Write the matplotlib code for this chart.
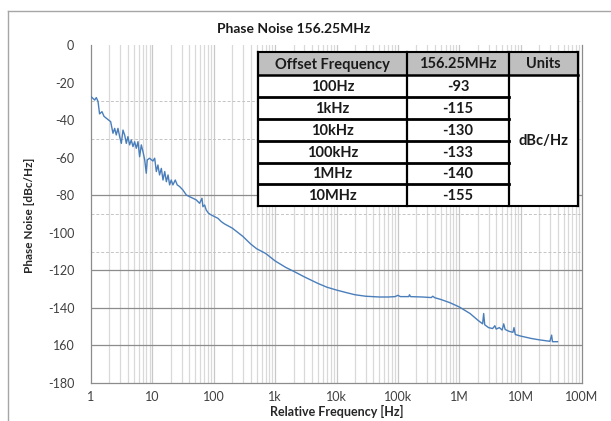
import matplotlib.pyplot as plt
import numpy as np
from matplotlib.patches import Rectangle

plt.rcParams['font.family'] = ['Lato', 'DejaVu Sans']

freq_hz = [1.0, 1.15, 1.22, 1.3, 1.38, 1.51, 1.63, 1.78, 1.94, 2.09, 2.28, 2.43, 2.58, 2.75,
           2.93, 3.12, 3.32, 3.54, 3.76, 4.0, 4.26, 4.53, 4.83, 5.14, 5.47, 5.83, 6.2, 6.6,
           7.03, 7.5, 7.95, 8.25, 9.0, 10.2, 10.9, 11.6, 12.3, 13.1, 14.0, 14.9, 15.9, 16.9,
           18.0, 19.1, 20.3, 21.6, 23.6, 25.4, 27.8, 31.4, 35.8, 40.5, 45.7, 51.9, 58.8, 64.3,
           66.6, 70.9, 75.4, 82.2, 90.9, 103, 117, 133, 150, 200, 300, 400, 500, 700,
           1e3, 1.5e3, 2e3, 3e3, 5e3, 7e3, 1e4, 1.5e4, 2e4, 3e4, 5e4,
           7e4, 9e4, 1e5, 1.1e5, 1.5e5, 1.55e5, 1.6e5, 2.5e5, 3.5e5, 3.7e5, 4e5, 5e5,
           7e5, 1e6, 1.5e6, 2e6, 2.4e6, 2.5e6, 2.6e6, 3e6, 3.5e6, 3.8e6, 4e6, 4.5e6,
           5e6, 5.3e6, 5.6e6, 6.5e6, 7.5e6, 7.8e6, 8.2e6, 1e7, 1.5e7, 2e7, 3e7, 3.2e7,
           3.3e7, 4e7]
noise_dbc = [-27.5, -29.3, -28, -30, -36.7, -35.5, -38, -39, -40, -40.8, -47, -44.4, -47.9, -44.4,
             -48.8, -52.4, -45.3, -48, -52.4, -48.8, -53.2, -50.6, -54.1, -51.5, -55, -51.5, -59.5, -53.2,
             -56.8, -61.2, -68.3, -61.2, -60.3, -61.8, -60.3, -67.4, -63.9, -69.2, -65.7, -71.9, -67.4, -72.8,
             -69.2, -74.5, -71.9, -74.5, -71.9, -74.5, -75.4, -77.2, -79.9, -80.8, -81.6, -82.5, -84.3, -81.6,
             -86.1, -85.2, -87.9, -89.6, -90.5, -91.4, -92.3, -94.1, -95.3, -97.5, -102,
             -106, -108.5, -111, -115, -118.5, -120.5, -123.5, -127, -129, -130.5, -132, -133, -133.8, -134.2,
             -134.2, -134, -133.3, -134, -134, -133, -134, -134.2, -134.5, -133.8, -134.6, -135.5,
             -137.2, -139.5, -143, -146.5, -148.5, -143, -149, -150.5, -151, -149.5, -151.3, -150.5,
             -151.8, -148.5, -151.5, -152.5, -153, -150.5, -154.2, -155, -156.3, -157, -157.8, -154.5,
             -158, -158]

y_ticks = [0, -20, -40, -60, -80, -100, -120, -140, -160, -180]
y_tick_labels = ["0", "-20", "-40", "-60", "-80", "-100", "-120", "-140", "160", "-180"]
x_ticks = [1, 10, 100, 1e3, 1e4, 1e5, 1e6, 1e7, 1e8]
x_tick_labels = ["1", "10", "100", "1k", "10k", "100k", "1M", "10M", "100M"]

solid_grid = [-80, -120, -140, -160]
dashed_grid = [-30, -50, -90, -110]

# summary table
table_header = ["Offset Frequency", "156.25MHz", "Units"]
table_offsets = ["100Hz", "1kHz", "10kHz", "100kHz", "1MHz", "10MHz"]
table_values = ["-93", "-115", "-130", "-133", "-140", "-155"]
table_units = "dBc/Hz"

W, H = 611, 421
fig = plt.figure(figsize=(W / 100, H / 100), dpi=100)
ax = fig.add_axes([91 / W, 1 - 383 / H, 491 / W, 338 / H])

# minor vertical gridlines
for dec in range(8):
    for m in range(2, 10):
        ax.axvline(m * 10 ** dec, color='#d9d9d9', lw=0.9, zorder=0)
for d in x_ticks[1:-1]:
    ax.axvline(d, color='#c8c8c8', lw=0.9, zorder=0)
for g in solid_grid:
    ax.axhline(g, color='#8c8c8c', lw=0.9, zorder=1)
for g in dashed_grid:
    ax.axhline(g, color='#c4c4c4', lw=0.7, ls=(0, (3, 2)), zorder=1)

ax.plot(freq_hz, noise_dbc, color='#4a7ebb', lw=1.0, zorder=3)

ax.set_xscale('log')
ax.set_xlim(1, 1e8)
ax.set_ylim(-180, 0)
ax.set_xticks(x_ticks)
ax.set_xticklabels(x_tick_labels)
ax.set_yticks(y_ticks)
ax.set_yticklabels(y_tick_labels)
ax.minorticks_off()
ax.tick_params(length=0, labelsize=9, colors='#404040', pad=6)
ax.tick_params(axis='y', pad=12)
for s in ['left', 'bottom', 'right']:
    ax.spines[s].set_color('#8c8c8c')
    ax.spines[s].set_linewidth(0.9)
ax.spines['top'].set_visible(False)

ax.set_xlabel("Relative Frequency [Hz]", fontsize=9, fontweight='bold', color='#262626', labelpad=1)
fig.text(30 / W, 1 - 215 / H, "Phase Noise [dBc/Hz]", rotation=90, fontsize=8.5,
         fontweight='bold', color='#262626', ha='center', va='center')
fig.text(294 / W, 1 - 29 / H, "Phase Noise 156.25MHz", fontsize=10, fontweight='bold',
         color='#1a1a1a', ha='center', va='center')

# chart border (left/top)
fig.add_artist(plt.Line2D([8 / W, 8 / W], [0, 1 - 11 / H], transform=fig.transFigure,
                          color='#a6a6a6', lw=1))
fig.add_artist(plt.Line2D([8 / W, 1], [1 - 11 / H, 1 - 11 / H], transform=fig.transFigure,
                          color='#a6a6a6', lw=1))

# table drawn in pixel coordinates
col_x = [258, 407, 509, 578]
row_y = [52, 75, 97, 119, 141, 163, 184, 206]


def fx(px):
    return px / W


def fy(py):
    return 1 - py / H


tr = fig.transFigure
fig.add_artist(Rectangle((fx(col_x[0]), fy(row_y[-1])), fx(col_x[3]) - fx(col_x[0]),
                         fy(row_y[0]) - fy(row_y[-1]), transform=tr, facecolor='white',
                         edgecolor='none', zorder=5))
fig.add_artist(Rectangle((fx(col_x[0]), fy(row_y[1])), fx(col_x[3]) - fx(col_x[0]),
                         fy(row_y[0]) - fy(row_y[1]), transform=tr, facecolor='#bfbfbf',
                         edgecolor='none', zorder=5))


def hline(x0, x1, y, lw):
    fig.add_artist(plt.Line2D([fx(x0), fx(x1)], [fy(y), fy(y)], transform=tr,
                              color='black', lw=lw, zorder=6, solid_capstyle='projecting'))


def vline(x, y0, y1, lw):
    fig.add_artist(plt.Line2D([fx(x), fx(x)], [fy(y0), fy(y1)], transform=tr,
                              color='black', lw=lw, zorder=6, solid_capstyle='projecting'))


hline(col_x[0], col_x[3], row_y[0], 1.5)
hline(col_x[0], col_x[3], row_y[1], 1.8)
hline(col_x[0], col_x[3], row_y[-1], 1.5)
for y in row_y[2:-1]:
    hline(col_x[0], col_x[2], y, 2.0)
for x in col_x:
    vline(x, row_y[0], row_y[-1], 1.6)

fs = 10.5
for i, txt in enumerate(table_header):
    fig.text(fx((col_x[i] + col_x[i + 1]) / 2), fy((row_y[0] + row_y[1]) / 2 + 1), txt,
             fontsize=fs, fontweight='bold', ha='center', va='center', color='#1a1a1a', zorder=7)
for r in range(len(table_offsets)):
    yc = (row_y[r + 1] + row_y[r + 2]) / 2 + 1
    fig.text(fx((col_x[0] + col_x[1]) / 2), fy(yc), table_offsets[r], fontsize=fs,
             fontweight='bold', ha='center', va='center', color='#1a1a1a', zorder=7)
    fig.text(fx((col_x[1] + col_x[2]) / 2), fy(yc), table_values[r], fontsize=fs,
             fontweight='bold', ha='center', va='center', color='#1a1a1a', zorder=7)
fig.text(fx((col_x[2] + col_x[3]) / 2), fy((row_y[1] + row_y[-1]) / 2), table_units,
         fontsize=fs, fontweight='bold', ha='center', va='center', color='#1a1a1a', zorder=7)

fig.savefig("out.png", dpi=100)
